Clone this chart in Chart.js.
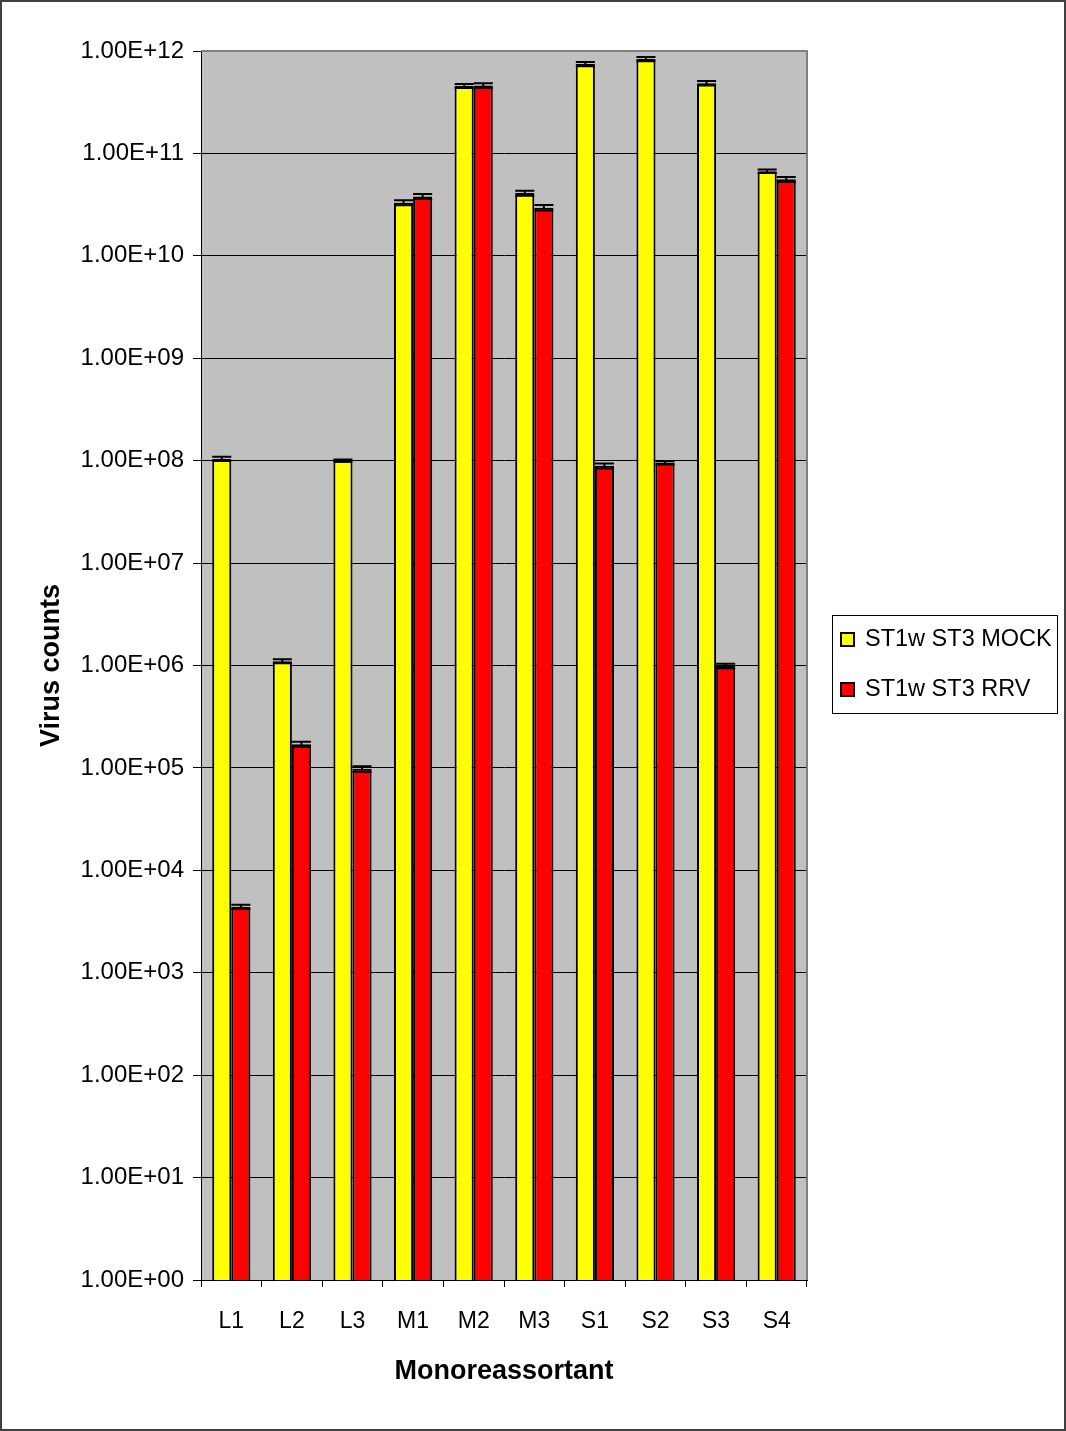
<!DOCTYPE html>
<html>
<head>
<meta charset="utf-8">
<title>Virus counts by monoreassortant</title>
<script src="https://cdn.jsdelivr.net/npm/chart.js@4/dist/chart.umd.min.js"></script>
<style>
  html, body { margin: 0; padding: 0; background: #ffffff; }
  #wrap { width: 1066px; height: 1431px; position: relative; }
  canvas { display: block; }
</style>
</head>
<body>
<div id="wrap"><canvas id="c" width="1066" height="1431"></canvas></div>
<script>
// Categories (monoreassortants)
const categories = ['L1', 'L2', 'L3', 'M1', 'M2', 'M3', 'S1', 'S2', 'S3', 'S4'];

// Series names
const seriesNames = ['ST1w ST3 MOCK', 'ST1w ST3 RRV'];

// Mean virus counts
const mockValues = [1.04e8, 1.1e6, 1.0e8, 3.3e10, 4.55e11, 4.1e10, 7.45e11, 8.35e11, 4.85e11, 6.7e10];
const rrvValues  = [4.4e3, 1.7e5, 9.8e4, 3.8e10, 4.6e11, 2.95e10, 8.9e7, 9.5e7, 9.9e5, 5.6e10];

// Standard errors
const mockErrors = [5e6, 5e4, 2.5e6, 1.8e9, 2e10, 2.3e9, 3.5e10, 4e10, 2.5e10, 2.5e9];
const rrvErrors  = [2e2, 1e4, 6e3, 2.2e9, 2.3e10, 1.8e9, 5e6, 3.5e6, 5e4, 3e9];

// Y-axis ticks (powers of ten) and their labels
const yTicks = [1, 1e1, 1e2, 1e3, 1e4, 1e5, 1e6, 1e7, 1e8, 1e9, 1e10, 1e11, 1e12];
const yTickLabels = ['1.00E+00', '1.00E+01', '1.00E+02', '1.00E+03', '1.00E+04', '1.00E+05',
                     '1.00E+06', '1.00E+07', '1.00E+08', '1.00E+09', '1.00E+10', '1.00E+11', '1.00E+12'];

const FONT = '"Liberation Sans", Arial, Helvetica, sans-serif';

// Grey plot background and outer frame
const plotFrame = {
  id: 'plotFrame',
  beforeDraw(chart) {
    const { ctx, chartArea: a } = chart;
    ctx.save();
    ctx.fillStyle = '#ffffff';
    ctx.fillRect(0, 0, chart.width, chart.height);
    ctx.fillStyle = '#c0c0c0';
    ctx.fillRect(a.left, a.top, a.right - a.left, a.bottom - a.top);
    ctx.restore();
  },
  beforeDatasetsDraw(chart) {
    const { ctx, chartArea: a } = chart;
    ctx.save();
    ctx.strokeStyle = '#808080';
    ctx.lineWidth = 2;
    ctx.beginPath();
    ctx.moveTo(a.left, a.top);
    ctx.lineTo(a.right, a.top);
    ctx.lineTo(a.right, a.bottom);
    ctx.stroke();
    ctx.restore();
  },
  afterDraw(chart) {
    const { ctx } = chart;
    ctx.save();
    ctx.strokeStyle = '#404040';
    ctx.lineWidth = 2;
    ctx.strokeRect(1, 1, chart.width - 2, chart.height - 2);
    ctx.restore();
  }
};

// Error whiskers with caps, drawn from the error arrays
const errorBars = {
  id: 'errorBars',
  afterDatasetsDraw(chart) {
    const { ctx } = chart;
    const y = chart.scales.y;
    chart.data.datasets.forEach((ds, di) => {
      const meta = chart.getDatasetMeta(di);
      meta.data.forEach((bar, i) => {
        const v = ds.data[i];
        const e = ds.errors[i];
        const yHi = y.getPixelForValue(v + e);
        const yLo = y.getPixelForValue(Math.max(v - e, 1));
        const half = bar.width / 2;
        ctx.save();
        ctx.strokeStyle = '#000000';
        ctx.lineWidth = 2;
        ctx.beginPath();
        ctx.moveTo(bar.x, yHi);
        ctx.lineTo(bar.x, yLo);
        ctx.moveTo(bar.x - half, yHi);
        ctx.lineTo(bar.x + half, yHi);
        ctx.moveTo(bar.x - half, yLo);
        ctx.lineTo(bar.x + half, yLo);
        ctx.stroke();
        ctx.restore();
      });
    });
  }
};

// Boxed legend at the right of the plot
const boxLegend = {
  id: 'boxLegend',
  afterDraw(chart) {
    const { ctx } = chart;
    const bx = 832, by = 615, bw = 225, bh = 98;
    ctx.save();
    ctx.fillStyle = '#ffffff';
    ctx.fillRect(bx, by, bw, bh);
    ctx.strokeStyle = '#000000';
    ctx.lineWidth = 1;
    ctx.strokeRect(bx + 0.5, by + 0.5, bw, bh);
    chart.data.datasets.forEach((ds, i) => {
      const cy = 639 + i * 50;
      ctx.fillStyle = ds.backgroundColor;
      ctx.fillRect(841, cy - 6, 13, 13);
      ctx.strokeStyle = '#000000';
      ctx.lineWidth = 2;
      ctx.strokeRect(841, cy - 6, 13, 13);
      ctx.fillStyle = '#000000';
      ctx.font = '23.5px ' + FONT;
      ctx.textBaseline = 'middle';
      ctx.textAlign = 'left';
      ctx.fillText(ds.label, 865, cy + 1);
    });
    ctx.restore();
  }
};

new Chart(document.getElementById('c'), {
  type: 'bar',
  data: {
    labels: categories,
    datasets: [
      { label: seriesNames[0], data: mockValues, errors: mockErrors,
        backgroundColor: '#ffff00', borderColor: '#000000', borderWidth: 2,
        categoryPercentage: 0.63, barPercentage: 1.0 },
      { label: seriesNames[1], data: rrvValues, errors: rrvErrors,
        backgroundColor: '#ff0000', borderColor: '#000000', borderWidth: 2,
        categoryPercentage: 0.63, barPercentage: 1.0 }
    ]
  },
  options: {
    responsive: false,
    devicePixelRatio: 1,
    animation: false,
    layout: { padding: { top: 51, left: 35, right: 259, bottom: 43 } },
    plugins: {
      legend: { display: false },
      tooltip: { enabled: false }
    },
    scales: {
      x: {
        grid: { display: true, drawOnChartArea: false, offset: true, color: '#000000', tickLength: 7, lineWidth: 1 },
        border: { display: true, color: '#000000', width: 1 },
        ticks: { color: '#000000', font: { family: FONT, size: 23 }, padding: 21, maxRotation: 0 },
        title: { display: true, text: 'Monoreassortant', color: '#000000',
                 font: { family: FONT, size: 27, weight: 'bold' }, padding: { top: 0, bottom: 0 } },
        afterFit(scale) { scale.height = 108; }
      },
      y: {
        type: 'logarithmic',
        min: 1,
        max: 1e12,
        afterBuildTicks(scale) { scale.ticks = yTicks.map(v => ({ value: v, major: true })); },
        grid: { color: '#000000', lineWidth: 1, tickLength: 8 },
        border: { display: true, color: '#000000', width: 1 },
        ticks: {
          color: '#000000',
          font: { family: FONT, size: 24 },
          padding: 9,
          autoSkip: false,
          callback(value) {
            const idx = yTicks.indexOf(value);
            return idx >= 0 ? yTickLabels[idx] : '';
          }
        },
        title: { display: true, text: 'Virus counts', color: '#000000',
                 font: { family: FONT, size: 27, weight: 'bold' }, padding: { top: 0, bottom: 0 } },
        afterFit(scale) { scale.width = 166; }
      }
    }
  },
  plugins: [plotFrame, errorBars, boxLegend]
});
</script>
</body>
</html>
